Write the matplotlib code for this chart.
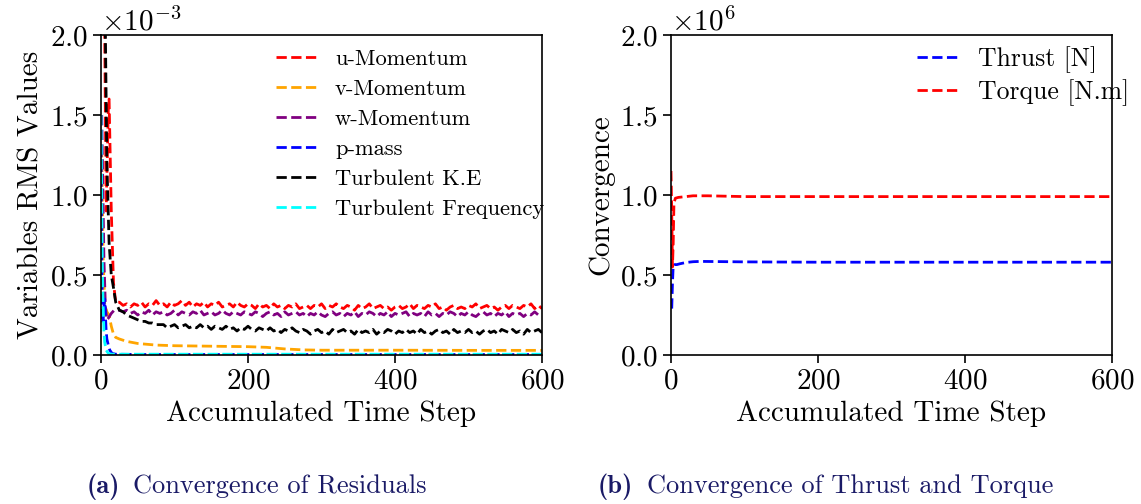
import numpy as np
import matplotlib.pyplot as plt

plt.rcParams['font.family'] = 'serif'
plt.rcParams['font.serif'] = ['cmr10']
plt.rcParams['mathtext.fontset'] = 'cm'
plt.rcParams['axes.formatter.use_mathtext'] = True
plt.rcParams['axes.unicode_minus'] = True
plt.rcParams['xtick.labelsize'] = 21
plt.rcParams['ytick.labelsize'] = 21
plt.rcParams['axes.labelsize'] = 21

# residuals are stored in units of 1e-3
rms_unit = 1e-3

# early transient of each residual (step, value)
u_head_steps = [1, 4, 7, 10, 11, 14, 17, 20]
u_head = [2.4, 2.6, 0.9, 1.55, 1.6, 0.9, 0.45, 0.33]
w_head_steps = [1, 2, 4, 6, 8, 10, 14, 18, 22]
w_head = [1.5, 1.2, 0.6, 0.3, 0.22, 0.23, 0.26, 0.28, 0.28]
ke_head_steps = [2, 5, 8, 11, 14, 17, 20]
ke_head = [2.3, 2.4, 1.2, 0.7, 0.5, 0.42, 0.33]

# every 5th step from 25 to 600
tail_steps = list(range(25, 601, 5))
u_tail = [
    0.33, 0.31, 0.32, 0.30, 0.32, 0.31, 0.33, 0.30, 0.32, 0.31, 0.34, 0.31,
    0.32, 0.30, 0.33, 0.31, 0.32, 0.34, 0.31, 0.33, 0.30, 0.32, 0.31, 0.33,
    0.30, 0.32, 0.31, 0.33, 0.30, 0.31, 0.32, 0.30, 0.33, 0.31, 0.30, 0.32,
    0.31, 0.29, 0.32, 0.30, 0.31, 0.29, 0.32, 0.30, 0.31, 0.29, 0.31, 0.30,
    0.32, 0.29, 0.30, 0.31, 0.29, 0.31, 0.30, 0.32, 0.29, 0.31, 0.30, 0.32,
    0.30, 0.29, 0.31, 0.30, 0.28, 0.31, 0.29, 0.30, 0.32, 0.29, 0.30, 0.31,
    0.29, 0.30, 0.28, 0.30, 0.31, 0.29, 0.30, 0.32, 0.29, 0.31, 0.30, 0.29,
    0.31, 0.30, 0.32, 0.29, 0.30, 0.28, 0.30, 0.31, 0.29, 0.30, 0.29, 0.31,
    0.30, 0.32, 0.29, 0.30, 0.31, 0.29, 0.30, 0.28, 0.30, 0.31, 0.29, 0.31,
    0.30, 0.29, 0.31, 0.30, 0.32, 0.29, 0.31, 0.29]
w_tail = [
    0.28, 0.27, 0.28, 0.26, 0.27, 0.25, 0.27, 0.26, 0.28, 0.25, 0.27, 0.26,
    0.27, 0.25, 0.26, 0.28, 0.25, 0.27, 0.26, 0.25, 0.27, 0.26, 0.28, 0.25,
    0.26, 0.27, 0.25, 0.26, 0.28, 0.26, 0.25, 0.27, 0.26, 0.25, 0.27, 0.26,
    0.25, 0.27, 0.26, 0.24, 0.26, 0.27, 0.25, 0.26, 0.24, 0.27, 0.25, 0.26,
    0.27, 0.25, 0.26, 0.24, 0.26, 0.25, 0.27, 0.25, 0.24, 0.26, 0.27, 0.25,
    0.26, 0.24, 0.26, 0.25, 0.27, 0.24, 0.26, 0.25, 0.27, 0.26, 0.24, 0.26,
    0.25, 0.27, 0.24, 0.26, 0.25, 0.26, 0.27, 0.24, 0.26, 0.25, 0.26, 0.24,
    0.27, 0.25, 0.26, 0.24, 0.26, 0.25, 0.27, 0.26, 0.24, 0.26, 0.25, 0.27,
    0.25, 0.24, 0.26, 0.27, 0.25, 0.26, 0.24, 0.26, 0.25, 0.27, 0.24, 0.26,
    0.25, 0.26, 0.24, 0.26, 0.25, 0.27, 0.25, 0.26]
ke_tail = [
    0.28, 0.27, 0.25, 0.24, 0.23, 0.22, 0.21, 0.21, 0.20, 0.20, 0.19, 0.19,
    0.19, 0.17, 0.18, 0.19, 0.17, 0.18, 0.19, 0.17, 0.18, 0.17, 0.19, 0.17,
    0.18, 0.16, 0.18, 0.17, 0.16, 0.18, 0.16, 0.17, 0.15, 0.17, 0.16, 0.18,
    0.16, 0.15, 0.17, 0.16, 0.15, 0.17, 0.15, 0.16, 0.14, 0.16, 0.15, 0.17,
    0.15, 0.14, 0.16, 0.15, 0.13, 0.15, 0.16, 0.14, 0.15, 0.13, 0.16, 0.14,
    0.15, 0.16, 0.14, 0.15, 0.13, 0.16, 0.14, 0.15, 0.14, 0.16, 0.13, 0.15,
    0.14, 0.16, 0.15, 0.13, 0.15, 0.14, 0.16, 0.14, 0.15, 0.13, 0.16, 0.14,
    0.15, 0.13, 0.15, 0.16, 0.14, 0.15, 0.13, 0.16, 0.14, 0.15, 0.14, 0.16,
    0.14, 0.15, 0.13, 0.15, 0.16, 0.14, 0.15, 0.13, 0.16, 0.15, 0.14, 0.16,
    0.14, 0.15, 0.13, 0.16, 0.14, 0.15, 0.16, 0.14]

# smooth residuals
v_steps = [1, 3, 5, 8, 11, 14, 17, 20, 25, 35, 50, 75, 100, 150, 200, 225,
           250, 275, 300, 400, 500, 600]
v_vals = [1.3, 0.6, 0.32, 0.27, 0.25, 0.18, 0.13, 0.11, 0.10, 0.085, 0.072,
          0.062, 0.058, 0.055, 0.052, 0.048, 0.038, 0.032, 0.030, 0.030,
          0.029, 0.029]
p_steps = [0, 1, 2, 3, 4, 5, 6, 7, 8, 10, 12, 15, 20, 50, 100, 300, 600]
p_vals = [1.3, 0.6, 0.2, 0.22, 0.3, 0.35, 0.25, 0.15, 0.1, 0.06, 0.03, 0.01,
          0.005, 0.003, 0.003, 0.003, 0.003]
f_steps = [0, 1, 2, 3, 4, 5, 7, 10, 15, 600]
f_vals = [1.5, 1.0, 0.5, 0.3, 0.15, 0.08, 0.03, 0.01, 0.005, 0.005]

# thrust and torque, units of 1e6
thrust_steps = [1, 2, 3, 5, 8, 12, 20, 30, 40, 60, 100, 200, 300, 400, 500, 600]
thrust_vals = [0.29, 0.45, 0.56, 0.565, 0.565, 0.57, 0.578, 0.583, 0.585,
               0.584, 0.582, 0.58, 0.58, 0.58, 0.58, 0.58]
torque_steps = [0, 1, 2, 3, 4, 6, 10, 20, 30, 50, 100, 200, 600]
torque_vals = [1.15, 0.9, 0.55, 0.7, 0.95, 0.98, 0.985, 0.99, 0.995, 0.995,
               0.99, 0.99, 0.99]

residuals = [
    ('u-Momentum', 'red', u_head_steps + tail_steps, u_head + u_tail),
    ('v-Momentum', 'orange', v_steps, v_vals),
    ('w-Momentum', 'purple', w_head_steps + tail_steps, w_head + w_tail),
    ('p-mass', 'blue', p_steps, p_vals),
    ('Turbulent K.E', 'black', ke_head_steps + tail_steps, ke_head + ke_tail),
    ('Turbulent Frequency', 'cyan', f_steps, f_vals),
]

W, H = 1141, 504
fig = plt.figure(figsize=(W / 100, H / 100), dpi=100)
ax0 = fig.add_axes([101 / W, 1 - 355 / H, 441 / W, 320 / H])
ax1 = fig.add_axes([671 / W, 1 - 355 / H, 441 / W, 320 / H])

lw = 2.0
for name, color, s, v in residuals:
    ax0.plot(s, np.array(v) * rms_unit, '--', color=color, lw=lw, label=name)

ax1.plot(thrust_steps, np.array(thrust_vals) * 1e6, '--', color='blue', lw=lw,
         label='Thrust [N]')
ax1.plot(torque_steps, np.array(torque_vals) * 1e6, '--', color='red', lw=lw,
         label='Torque [N.m]')

ax0.set_ylim(0, 2e-3)
ax1.set_ylim(0, 2e6)
ax0.set_ylabel('Variables RMS Values')
ax1.set_ylabel('Convergence')

for ax in (ax0, ax1):
    ax.set_xlim(0, 600)
    ax.set_xticks([0, 200, 400, 600])
    ax.set_xlabel('Accumulated Time Step')
    ax.ticklabel_format(axis='y', style='sci', scilimits=(0, 0))
    ax.yaxis.get_offset_text().set_fontsize(21)
    ax.tick_params(direction='out', length=6, width=1.2)
    for sp in ax.spines.values():
        sp.set_linewidth(1.2)

leg_kw = dict(frameon=False, loc='upper left', borderaxespad=0, borderpad=0)
ax0.legend(bbox_to_anchor=(0.397, 0.957), fontsize=16.2, handlelength=1.82,
           handletextpad=0.8, labelspacing=0.46, **leg_kw)
ax1.legend(bbox_to_anchor=(0.558, 0.965), fontsize=18.5, handlelength=1.67,
           handletextpad=0.7, labelspacing=0.25, **leg_kw)

# sub-captions: bold tag followed by the caption text
cap_color = '#1a1a66'
cap_y = 1 - 493 / H
captions = [(87, 133, '(a)', 'Convergence of Residuals'),
            (598, 647, '(b)', 'Convergence of Thrust and Torque')]
for x_tag, x_txt, tag, txt in captions:
    fig.text(x_tag / W, cap_y, tag, family='cmb10', fontsize=19,
             color=cap_color, ha='left', va='baseline')
    fig.text(x_txt / W, cap_y, txt, fontsize=19, color=cap_color,
             ha='left', va='baseline')

fig.savefig('out.png', dpi=100)
